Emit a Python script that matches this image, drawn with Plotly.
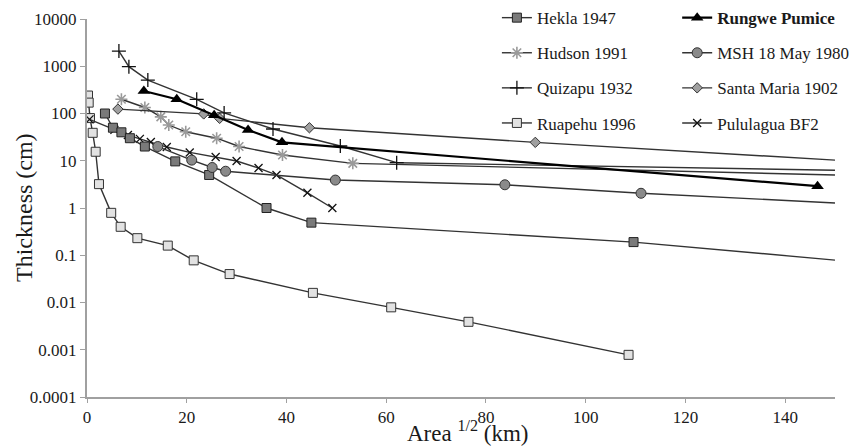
import plotly.graph_objects as go

# ---------------- data ----------------
TREND_X = 150  # x where the extrapolated trend lines end

hekla_x = [3.6, 5.2, 6.9, 8.6, 11.6, 17.7, 24.5, 36.0, 45.0, 109.6]
hekla_y = [100, 50, 40, 30, 20, 9.7, 5.0, 1.0, 0.49, 0.19]
hekla_trend = 0.079

hudson_x = [6.9, 11.6, 14.8, 16.4, 19.8, 26.0, 30.5, 39.2, 53.3]
hudson_y = [200, 134, 85, 57, 41, 30, 20, 13.2, 8.8]
hudson_trend = 5.0

quizapu_x = [6.4, 8.4, 12.2, 22.0, 27.5, 37.3, 50.8, 62.1]
quizapu_y = [2100, 980, 510, 200, 103, 47, 20.5, 9.1]
quizapu_trend = 6.3

ruapehu_x = [0.2, 0.34, 0.6, 1.14, 1.74, 2.4, 4.85, 6.75, 10.1, 16.2, 21.4, 28.6, 45.3, 61.0, 76.5, 108.6]
ruapehu_y = [240, 170, 80, 39, 15.5, 3.2, 0.79, 0.40, 0.23, 0.16, 0.078, 0.040, 0.016, 0.0079, 0.0039, 0.00078]

rungwe_x = [11.4, 18.0, 25.5, 32.3, 39.1, 146.5]
rungwe_y = [300, 200, 92, 45, 24.5, 2.9]

msh_x = [14.2, 21.0, 25.1, 27.8, 49.8, 83.8, 111.1]
msh_y = [20, 10.3, 7.2, 6.0, 3.9, 3.1, 2.05]
msh_trend = 1.28

santamaria_x = [6.2, 23.4, 26.6, 44.6, 89.9]
santamaria_y = [124, 98, 79, 50, 24.5]
santamaria_trend = 10.3

pululagua_x = [0.5, 5.5, 8.2, 10.6, 12.8, 16.0, 20.6, 25.8, 30.0, 34.4, 38.0, 44.2, 49.2]
pululagua_y = [75, 45, 35, 29, 25, 19.5, 15, 12, 9.9, 7.0, 5.0, 2.1, 1.0]

y_tickvals = [0.0001, 0.001, 0.01, 0.1, 1, 10, 100, 1000, 10000]
y_ticktext = ["0.0001", "0.001", "0.01", "0.1", "1", "10", "100", "1000", "10000"]
x_tickvals = [0, 20, 40, 60, 80, 100, 120, 140]

# ---------------- figure ----------------
FONT = "Liberation Serif, Times New Roman, serif"
LINE = "#333333"
TEXT = "#1a1a1a"

fig = go.Figure()

def trend(xs, ys, end_val, color=LINE, width=1.4):
    fig.add_trace(go.Scatter(
        x=[xs[-1], TREND_X], y=[ys[-1], end_val], mode="lines",
        line=dict(color=color, width=width), showlegend=False, hoverinfo="skip"))

trend(hekla_x, hekla_y, hekla_trend)
trend(hudson_x, hudson_y, hudson_trend)
trend(quizapu_x, quizapu_y, quizapu_trend)
trend(msh_x, msh_y, msh_trend)
trend(santamaria_x, santamaria_y, santamaria_trend)

def series(name, xs, ys, marker, legend, rank, line_color=LINE, line_width=1.4):
    fig.add_trace(go.Scatter(
        x=xs, y=ys, mode="lines+markers", name=name,
        line=dict(color=line_color, width=line_width),
        marker=marker, legend=legend, legendgroup="g%d" % rank, legendrank=rank))

series("Ruapehu 1996", ruapehu_x, ruapehu_y,
       dict(symbol="square", size=9, color="#e2e2e2", line=dict(color="#333", width=1)),
       "legend", 4)
series("Pululagua BF2", pululagua_x, pululagua_y,
       dict(symbol="x-thin", size=8, color="#111", line=dict(color="#111", width=1.3)),
       "legend2", 8)
series("Hekla 1947", hekla_x, hekla_y,
       dict(symbol="square", size=9, color="#7a7a7a", line=dict(color="#222", width=1)),
       "legend", 1)
series("Hudson 1991", hudson_x, hudson_y,
       dict(symbol="asterisk", size=10, color="#9a9a9a", line=dict(color="#9a9a9a", width=1.6)),
       "legend", 2)
series("MSH 18 May 1980", msh_x, msh_y,
       dict(symbol="circle", size=10, color="#8a8a8a", line=dict(color="#333", width=1)),
       "legend2", 6)
series("Santa Maria 1902", santamaria_x, santamaria_y,
       dict(symbol="diamond", size=8, color="#a0a0a0", line=dict(color="#333", width=1)),
       "legend2", 7)
series("Quizapu 1932", quizapu_x, quizapu_y,
       dict(symbol="cross-thin", size=10, color="#111", line=dict(color="#111", width=1.3)),
       "legend", 3)
series("<b>Rungwe Pumice</b>", rungwe_x, rungwe_y,
       dict(symbol="triangle-up", size=11, color="#000"),
       "legend2", 5, line_color="#000", line_width=2.2)

legend_common = dict(
    bgcolor="rgba(0,0,0,0)", borderwidth=0, itemwidth=30,
    font=dict(family=FONT, size=17, color=TEXT),
    tracegroupgap=10, yanchor="top", xanchor="left", traceorder="grouped",
)

fig.update_layout(
    width=860, height=448,
    margin=dict(l=87, r=25, t=19, b=51, autoexpand=False),
    paper_bgcolor="white", plot_bgcolor="white",
    font=dict(family=FONT, color=TEXT),
    legend=dict(x=0.548, y=1.05, **legend_common),
    legend2=dict(x=0.789, y=1.05, **legend_common),
    xaxis=dict(
        range=[0, 150], tickvals=x_tickvals, showgrid=False, zeroline=False,
        showline=True, linecolor="#a0a0a0", linewidth=2, automargin=False,
        ticks="outside", ticklen=4, tickcolor="#a0a0a0",
        tickfont=dict(family=FONT, size=17, color=TEXT),
    ),
    yaxis=dict(
        type="log", range=[-4, 4], tickvals=y_tickvals, ticktext=y_ticktext,
        showgrid=False, zeroline=False, automargin=False,
        showline=True, linecolor="#a0a0a0", linewidth=2,
        ticks="outside", ticklen=5, tickcolor="#a0a0a0",
        tickfont=dict(family=FONT, size=17, color=TEXT),
    ),
    annotations=[
        dict(text="Thickness (cm)", textangle=-90, showarrow=False,
             xref="paper", yref="paper", x=-(87 - 24) / 748, y=0.5,
             xanchor="center", yanchor="middle",
             font=dict(family=FONT, size=24, color=TEXT)),
        dict(text="Area <sup>1/2</sup> (km)", showarrow=False,
             xref="paper", yref="paper", x=(467 - 87) / 748, y=-(447 - 397) / 378,
             xanchor="center", yanchor="bottom", borderpad=0,
             font=dict(family=FONT, size=23, color=TEXT)),
    ],
)

fig.write_html("out.html")
